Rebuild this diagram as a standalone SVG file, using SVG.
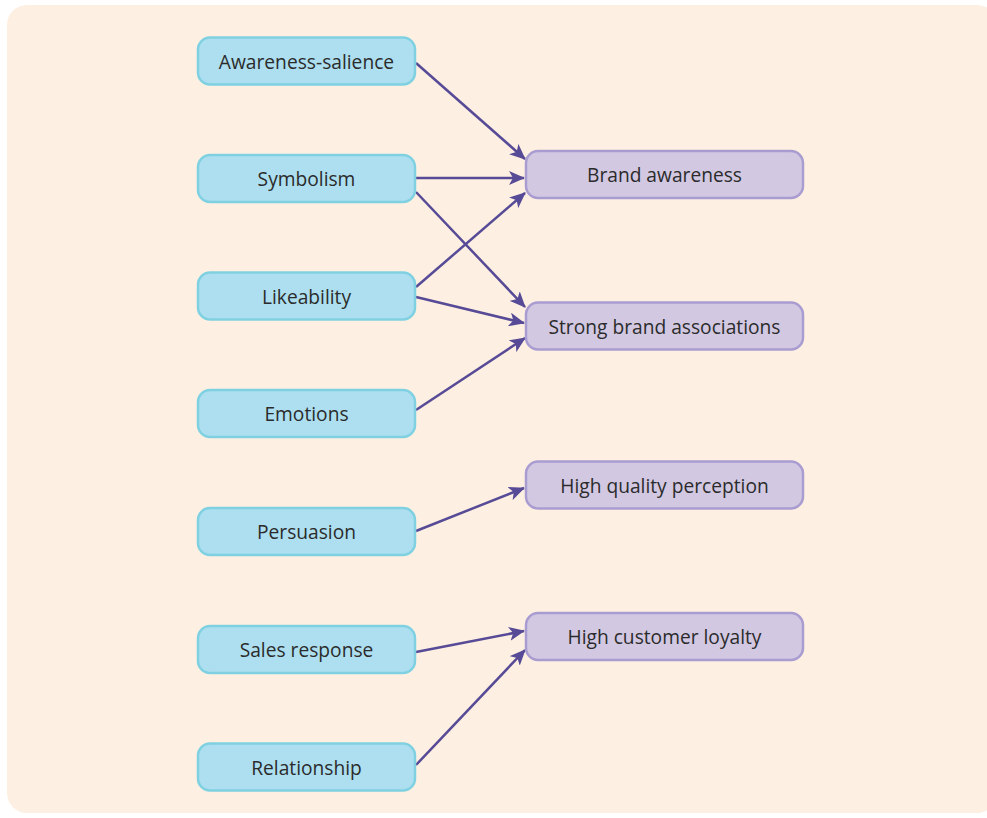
<svg xmlns="http://www.w3.org/2000/svg" width="987" height="818" viewBox="0 0 987 818">
<defs>
<style>
.src rect{fill:#addff0;stroke:#7fd1e2;stroke-width:2.5}
.dst rect{fill:#d2c8e2;stroke:#a99cd1;stroke-width:2.5}
text{font-family:"Open Sans","Noto Sans","Liberation Sans",sans-serif;font-size:19.2px;fill:#2b2b2b;text-anchor:middle;dominant-baseline:central}
#connectors line{stroke:#574a96;stroke-width:2.5;marker-end:url(#ah)}
</style>
<marker id="ah" viewBox="0 0 16 14" refX="15" refY="7" markerWidth="16" markerHeight="14" markerUnits="userSpaceOnUse" orient="auto">
<path d="M0,0 L16,7 L0,14 L4,7 Z" fill="#574a96"/>
</marker>
</defs>
<rect x="7" y="5" width="990" height="808" rx="20" fill="#fdf0e2"/>
<g id="connectors">
<line x1="416" y1="63" x2="525" y2="159"/>
<line x1="416" y1="178" x2="524" y2="178"/>
<line x1="416" y1="192" x2="525" y2="307"/>
<line x1="416" y1="287" x2="525" y2="193"/>
<line x1="416" y1="297" x2="524" y2="323"/>
<line x1="416" y1="410" x2="525" y2="338"/>
<line x1="416" y1="531" x2="524" y2="488"/>
<line x1="416" y1="652" x2="524" y2="631"/>
<line x1="416" y1="765" x2="525" y2="650"/>
</g>
<g id="n1" class="src"><rect x="198" y="37.5" width="217" height="47" rx="12"/><text x="306.5" y="61">Awareness-salience</text></g>
<g id="n2" class="src"><rect x="198" y="155" width="217" height="47" rx="12"/><text x="306.5" y="178.5">Symbolism</text></g>
<g id="n3" class="src"><rect x="198" y="272.5" width="217" height="47" rx="12"/><text x="306.5" y="296">Likeability</text></g>
<g id="n4" class="src"><rect x="198" y="390" width="217" height="47" rx="12"/><text x="306.5" y="413.5">Emotions</text></g>
<g id="n5" class="src"><rect x="198" y="508" width="217" height="47" rx="12"/><text x="306.5" y="531.5">Persuasion</text></g>
<g id="n6" class="src"><rect x="198" y="626" width="217" height="47" rx="12"/><text x="306.5" y="649.5">Sales response</text></g>
<g id="n7" class="src"><rect x="198" y="743.5" width="217" height="47" rx="12"/><text x="306.5" y="767">Relationship</text></g>
<g id="t1" class="dst"><rect x="526" y="151" width="277" height="47" rx="12"/><text x="664.5" y="174.5">Brand awareness</text></g>
<g id="t2" class="dst"><rect x="526" y="302.5" width="277" height="47" rx="12"/><text x="664.5" y="326">Strong brand associations</text></g>
<g id="t3" class="dst"><rect x="526" y="461.5" width="277" height="47" rx="12"/><text x="664.5" y="485">High quality perception</text></g>
<g id="t4" class="dst"><rect x="526" y="613" width="277" height="47" rx="12"/><text x="664.5" y="636.5">High customer loyalty</text></g>
</svg>
